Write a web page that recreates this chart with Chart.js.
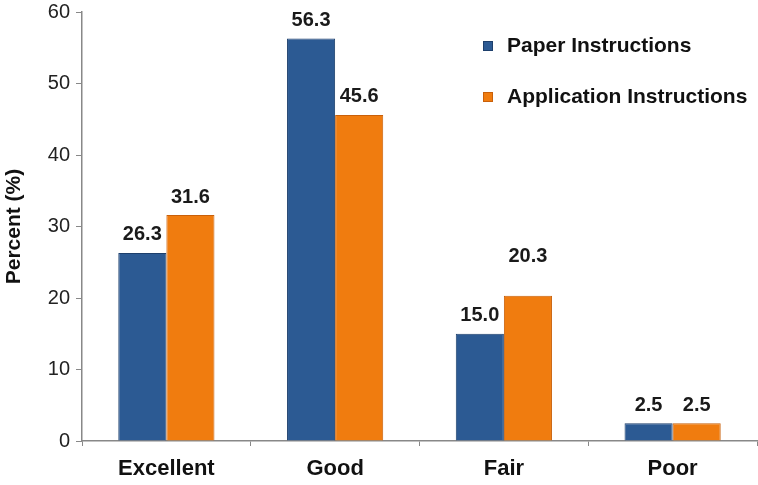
<!DOCTYPE html>
<html>
<head>
<meta charset="utf-8">
<script src="https://cdn.jsdelivr.net/npm/chart.js@4/dist/chart.umd.min.js"></script>
<style>
  html, body { margin: 0; padding: 0; background: #fff; }
  #wrap { width: 758px; height: 485px; }
</style>
</head>
<body>
<div id="wrap"><canvas id="chart"></canvas></div>
<script>
// kategori & nilai
const categories = ['Excellent', 'Good', 'Fair', 'Poor'];
const paperValues = [26.3, 56.3, 15.0, 2.5];
const appValues = [31.6, 45.6, 20.3, 2.5];
const seriesNames = ['Paper Instructions', 'Application Instructions'];
const yTicks = [0, 10, 20, 30, 40, 50, 60];

const FONT = 'Arial, "Liberation Sans", Helvetica, sans-serif';
const BLUE = '#2c5a93';
const ORANGE = '#f07c0f';

// label 20.3 sits higher in the original
const extraLift = { '1-2': 21 };

function barFill(base, edge) {
  return (ctx) => {
    const el = ctx.element;
    if (!el || !ctx.chart.chartArea) return base;
    const x = el.x, w = el.width;
    if (!isFinite(x) || !isFinite(w) || w <= 0) return base;
    const g = ctx.chart.ctx.createLinearGradient(x - w / 2, 0, x + w / 2, 0);
    g.addColorStop(0, edge);
    g.addColorStop(0.12, base);
    g.addColorStop(0.88, base);
    g.addColorStop(1, edge);
    return g;
  };
}

const valueLabels = {
  id: 'valueLabels',
  afterDatasetsDraw(chart) {
    const ctx = chart.ctx;
    ctx.save();
    ctx.font = 'bold 20px ' + FONT;
    ctx.fillStyle = '#1a1a1a';
    ctx.textAlign = 'center';
    ctx.textBaseline = 'middle';
    chart.data.datasets.forEach((ds, di) => {
      chart.getDatasetMeta(di).data.forEach((bar, i) => {
        const lift = 18 + (extraLift[di + '-' + i] || 0);
        ctx.fillText(ds.data[i].toFixed(1), bar.x, bar.y - lift);
      });
    });
    ctx.restore();
  }
};

const insideLegend = {
  id: 'insideLegend',
  afterDraw(chart) {
    const ctx = chart.ctx;
    ctx.save();
    ctx.font = 'bold 21px ' + FONT;
    ctx.textBaseline = 'middle';
    chart.data.datasets.forEach((ds, di) => {
      const y = 46 + di * 51;
      ctx.fillStyle = ds.borderColor;
      ctx.fillRect(483, y - 5, 10, 10);
      ctx.fillStyle = ds.legendColor;
      ctx.fillRect(484, y - 4, 8, 8);
      ctx.fillStyle = '#111';
      ctx.fillText(ds.label, 507, y);
    });
    ctx.restore();
  }
};

new Chart(document.getElementById('chart'), {
  type: 'bar',
  data: {
    labels: categories,
    datasets: [
      {
        label: seriesNames[0],
        data: paperValues,
        backgroundColor: barFill(BLUE, '#4f7db5'),
        legendColor: BLUE,
        borderColor: '#1d3f6c',
        borderWidth: 1,
        categoryPercentage: 0.57,
        barPercentage: 1.0
      },
      {
        label: seriesNames[1],
        data: appValues,
        backgroundColor: barFill(ORANGE, '#f7a24e'),
        legendColor: ORANGE,
        borderColor: '#c9600a',
        borderWidth: 1,
        categoryPercentage: 0.57,
        barPercentage: 1.0
      }
    ]
  },
  options: {
    responsive: true,
    maintainAspectRatio: false,
    animation: false,
    layout: { padding: { top: 0, right: 1, left: 0, bottom: 0 } },
    plugins: {
      legend: { display: false },
      tooltip: { enabled: false }
    },
    scales: {
      x: {
        grid: { display: true, drawOnChartArea: false, drawTicks: true, tickLength: 5, color: '#888' },
        border: { color: '#888', width: 1.5 },
        ticks: { color: '#111', font: { family: FONT, size: 22, weight: 'bold' }, padding: 10 },
        afterFit(scale) { scale.height = 44; }
      },
      y: {
        min: 0,
        max: 60,
        afterBuildTicks(scale) { scale.ticks = yTicks.map(v => ({ value: v })); },
        grid: { display: true, drawOnChartArea: false, drawTicks: true, tickLength: 6, color: '#888' },
        border: { color: '#888', width: 1.5 },
        ticks: { color: '#222', font: { family: FONT, size: 20 }, padding: 6 },
        title: {
          display: true,
          text: 'Percent (%)',
          color: '#111',
          font: { family: FONT, size: 21, weight: 'bold' },
          padding: { top: 2, bottom: 4 }
        },
        afterFit(scale) {
          scale.width = 82;
          scale.paddingTop = 12;
          scale.paddingBottom = 0;
        }
      }
    }
  },
  plugins: [valueLabels, insideLegend]
});
</script>
</body>
</html>
